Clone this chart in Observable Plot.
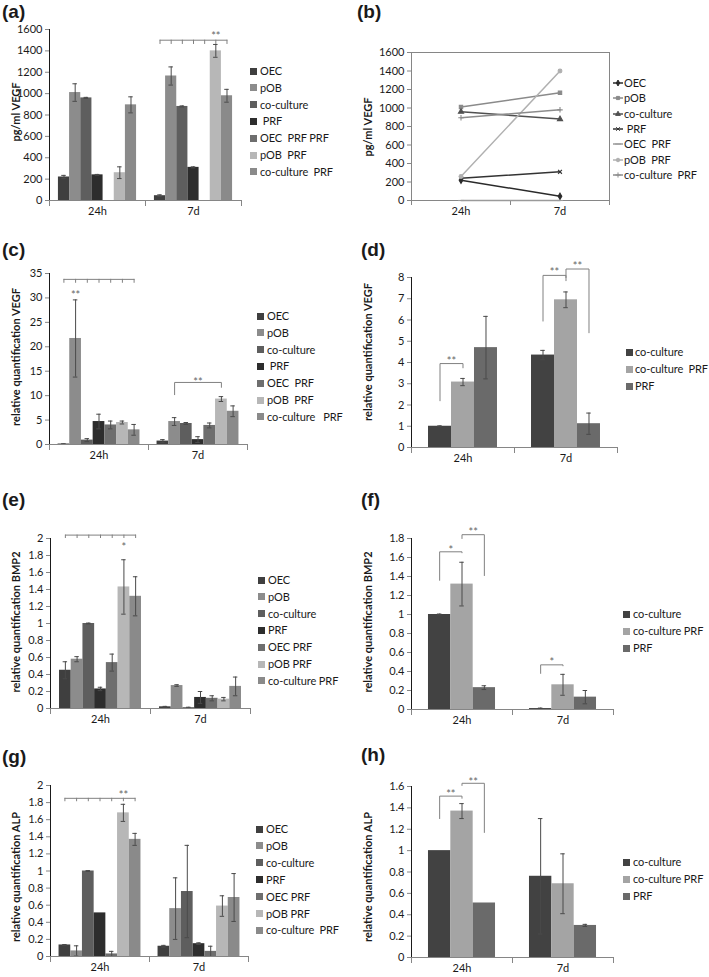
<!DOCTYPE html>
<html><head><meta charset="utf-8">
<script src="https://cdn.jsdelivr.net/npm/d3@7"></script>
<script src="https://cdn.jsdelivr.net/npm/@observablehq/plot@0.6"></script>
<style>
body{margin:0;background:#fff;}
#root{position:relative;width:709px;height:977px;overflow:hidden;font-family:Lato,"Open Sans",sans-serif;color:#1a1a1a;background:#fff;}
.plabel{position:absolute;font-family:"Liberation Sans",Arial,sans-serif;font-weight:bold;font-size:19px;line-height:20px;}
.ytitle{position:absolute;font-weight:bold;font-size:11px;white-space:nowrap;transform:translate(-50%,-50%) rotate(-90deg);}
.lrow{position:absolute;white-space:pre;font-size:11px;letter-spacing:-0.1px;line-height:14px;}
.sw{position:absolute;width:7px;height:7px;}
.chart{position:absolute;}
#root svg g[aria-label^="y-axis"] path,#root svg g[aria-label^="y-axis"] line{stroke:#868686;}
</style></head>
<body><div id="root"></div>
<script>
// ---------- categories ----------
const times = ["24h", "7d"];
const groups7 = ["OEC", "pOB", "co-culture", "PRF", "OEC PRF", "pOB PRF", "co-culture PRF"];
const groups3 = ["co-culture", "co-culture PRF", "PRF"];
const colors7 = ["#3f3f3f", "#8c8c8c", "#5e5e5e", "#2d2d2d", "#6e6e6e", "#b7b7b7", "#8a8a8a"];
const colors3 = ["#424242", "#a4a4a4", "#6a6a6a"];
const lineColors7 = ["#2a2a2a", "#8a8a8a", "#505050", "#333333", "#9a9a9a", "#b0b0b0", "#8c8c8c"];

// ---------- (a)/(b) VEGF ELISA, pg/ml ----------
const vegfElisa24h = [220, 1010, 960, 240, 0, 260, 895];
const vegfElisa7d = [45, 1165, 880, 310, 0, 1400, 980];
const vegfElisaErr24h = [15, 82, 5, 4, 0, 55, 75];
const vegfElisaErr7d = [8, 85, 5, 5, 0, 60, 60];
const elisaTicks = [0, 200, 400, 600, 800, 1000, 1200, 1400, 1600];
const legendA = ["OEC", "pOB", "co-culture", " PRF", "OEC  PRF PRF", "pOB  PRF", "co-culture  PRF"];
const legendB = ["OEC", "pOB", "co-culture", " PRF", "OEC  PRF", "pOB  PRF", "co-culture  PRF"];
const bracketsA = [{time: "7d", from: "OEC", to: "co-culture PRF", y: 1500, tick: 1460}];
const starsA = [{time: "7d", from: "pOB PRF", to: "pOB PRF", y: 1560, text: "**"}];

// ---------- (c) VEGF qPCR, 7 groups ----------
const vegfQ24h = [0.1, 21.7, 0.9, 4.7, 4.0, 4.5, 3.0];
const vegfQ7d = [0.7, 4.7, 4.3, 1.0, 3.9, 9.3, 6.8];
const vegfQErr24h = [0.05, 7.9, 0.3, 1.5, 0.8, 0.3, 1.1];
const vegfQErr7d = [0.3, 0.8, 0.2, 0.6, 0.5, 0.5, 1.1];
const vegfQTicks = [0, 5, 10, 15, 20, 25, 30, 35];
const legendC = ["OEC", "pOB", "co-culture", " PRF", "OEC  PRF", "pOB  PRF", "co-culture   PRF"];
const groupBracketsC = [{time: "24h", from: "OEC", to: "co-culture PRF", y: 33.8, tick: 33.0}];
const pairBracketsC = [{time: "7d", from: "pOB", to: "pOB PRF", y: 12.7, leftEnd: 10.2, rightEnd: 11.7}];
const starsC = [{time: "24h", from: "pOB", to: "pOB", y: 31.2, text: "**"},
                {time: "7d", from: "PRF", to: "PRF", y: 13.4, text: "**"}];

// ---------- (d) VEGF qPCR, 3 groups ----------
const vegfD24h = [1.0, 3.08, 4.7];
const vegfD7d = [4.35, 6.95, 1.12];
const vegfDErr24h = [0.02, 0.17, 1.47];
const vegfDErr7d = [0.22, 0.37, 0.5];
const vegfDTicks = [0, 1, 2, 3, 4, 5, 6, 7, 8];
const legendD = ["co-culture", "co-culture  PRF", "PRF"];
const pairBracketsD = [
  {time: "24h", from: "co-culture", to: "co-culture PRF", y: 3.95, leftEnd: 2.2, rightEnd: 3.75},
  {time: "7d", from: "co-culture", to: "co-culture PRF", y: 8.1, leftEnd: 5.95, rightEnd: 7.85},
  {time: "7d", from: "co-culture PRF", to: "PRF", y: 8.4, leftEnd: 8.0, rightEnd: 5.4}];
const starsD = [
  {time: "24h", from: "co-culture", to: "co-culture PRF", y: 4.2, text: "**"},
  {time: "7d", from: "co-culture", to: "co-culture PRF", y: 8.38, text: "**"},
  {time: "7d", from: "co-culture PRF", to: "PRF", y: 8.66, text: "**"}];

// ---------- (e) BMP2, 7 groups ----------
const bmpE24h = [0.45, 0.58, 1.0, 0.23, 0.54, 1.43, 1.32];
const bmpE7d = [0.02, 0.27, 0.01, 0.13, 0.12, 0.11, 0.26];
const bmpEErr24h = [0.1, 0.03, 0.005, 0.02, 0.1, 0.32, 0.23];
const bmpEErr7d = [0.005, 0.01, 0.005, 0.07, 0.03, 0.02, 0.11];
const ticks0to2 = [0, 0.2, 0.4, 0.6, 0.8, 1, 1.2, 1.4, 1.6, 1.8, 2];
const legendE = ["OEC", "pOB", "co-culture", "PRF", "OEC PRF", "pOB PRF", "co-culture PRF"];
const groupBracketsE = [{time: "24h", from: "OEC", to: "co-culture PRF", y: 2.04, tick: 2.0}];
const starsE = [{time: "24h", from: "pOB PRF", to: "pOB PRF", y: 1.93, text: "*"}];

// ---------- (f) BMP2, 3 groups ----------
const bmpF24h = [1.0, 1.32, 0.23];
const bmpF7d = [0.01, 0.26, 0.13];
const bmpFErr24h = [0.005, 0.23, 0.02];
const bmpFErr7d = [0.005, 0.11, 0.07];
const ticks0to18 = [0, 0.2, 0.4, 0.6, 0.8, 1, 1.2, 1.4, 1.6, 1.8];
const legendF = ["co-culture", "co-culture PRF", "PRF"];
const pairBracketsF = [
  {time: "24h", from: "co-culture", to: "co-culture PRF", y: 1.66, leftEnd: 1.36, rightEnd: 1.65},
  {time: "24h", from: "co-culture PRF", to: "PRF", y: 1.84, leftEnd: 1.8, rightEnd: 1.41},
  {time: "7d", from: "co-culture", to: "co-culture PRF", y: 0.47, leftEnd: 0.38, rightEnd: 0.46}];
const starsF = [
  {time: "24h", from: "co-culture", to: "co-culture PRF", y: 1.71, text: "*"},
  {time: "24h", from: "co-culture PRF", to: "PRF", y: 1.9, text: "**"},
  {time: "7d", from: "co-culture", to: "co-culture PRF", y: 0.53, text: "*"}];

// ---------- (g) ALP, 7 groups ----------
const alpG24h = [0.135, 0.065, 1.0, 0.51, 0.03, 1.68, 1.37];
const alpG7d = [0.12, 0.56, 0.76, 0.15, 0.06, 0.59, 0.69];
const alpGErr24h = [0.005, 0.06, 0.005, 0, 0.03, 0.1, 0.07];
const alpGErr7d = [0.01, 0.36, 0.54, 0.01, 0.06, 0.12, 0.28];
const legendG = ["OEC", "pOB", "co-culture", "PRF", "OEC PRF", "pOB PRF", "co-culture  PRF"];
const groupBracketsG = [{time: "24h", from: "OEC", to: "co-culture PRF", y: 1.85, tick: 1.81}];
const starsG = [{time: "24h", from: "pOB PRF", to: "pOB PRF", y: 1.92, text: "**"}];

// ---------- (h) ALP, 3 groups ----------
const alpH24h = [1.0, 1.37, 0.51];
const alpH7d = [0.76, 0.69, 0.3];
const alpHErr24h = [0, 0.07, 0];
const alpHErr7d = [0.54, 0.28, 0.01];
const ticks0to16 = [0, 0.2, 0.4, 0.6, 0.8, 1, 1.2, 1.4, 1.6];
const legendH = ["co-culture", "co-culture PRF", "PRF"];
const pairBracketsH = [
  {time: "24h", from: "co-culture", to: "co-culture PRF", y: 1.51, leftEnd: 1.3, rightEnd: 1.49},
  {time: "24h", from: "co-culture PRF", to: "PRF", y: 1.63, leftEnd: 1.61, rightEnd: 1.17}];
const starsH = [
  {time: "24h", from: "co-culture", to: "co-culture PRF", y: 1.55, text: "**"},
  {time: "24h", from: "co-culture PRF", to: "PRF", y: 1.67, text: "**"}];

// ---------- helpers ----------
const root = document.getElementById("root");
const AXIS = "#868686";
const FONT = {fontFamily: "Lato, 'Open Sans', sans-serif", fontSize: "11px", color: "#1a1a1a", background: "transparent", overflow: "visible"};

function div(cls, css, text) {
  const d = document.createElement("div");
  d.className = cls;
  Object.assign(d.style, css);
  if (text != null) d.textContent = text;
  root.appendChild(d);
  return d;
}
function panelLabel(x, yc, t) { div("plabel", {left: x + "px", top: (yc - 10) + "px"}, t); }
function yTitle(xc, yc, t) { div("ytitle", {left: xc + "px", top: yc + "px"}, t); }
function swatchLegend(swX, textX, y0, dy, labels, colors) {
  labels.forEach((l, i) => {
    const yc = y0 + i * dy;
    div("sw", {left: swX + "px", top: (yc - 3.5) + "px", background: colors[i]});
    div("lrow", {left: textX + "px", top: (yc - 7) + "px"}, l);
  });
}

function barPanel(c) {
  const series = c.series;
  const rows = [];
  times.forEach((t, ti) => series.forEach((s, si) =>
    rows.push({time: t, series: s, value: (ti ? c.v7 : c.v24)[si], err: (ti ? c.e7 : c.e24)[si]})));
  const errRows = rows.filter(d => d.err > 0);
  const plotW = c.width - c.ml - c.mr;
  const ph = c.height - c.mt - c.mb;
  const step = plotW / 2 / (series.length + 2 * c.po);
  const cap = Math.max(0, (step - 4.5) / 2);
  const idx = s => series.indexOf(s);
  const lines = [], ticks = [];
  (c.groupBrackets || []).forEach((b, k) => {
    lines.push({id: "g" + k, time: b.time, series: b.from, v: b.y}, {id: "g" + k, time: b.time, series: b.to, v: b.y});
    series.slice(idx(b.from), idx(b.to) + 1).forEach(s => ticks.push({time: b.time, series: s, y1: b.y, y2: b.tick}));
  });
  (c.pairBrackets || []).forEach((b, k) => {
    const id = "p" + k;
    lines.push({id, time: b.time, series: b.from, v: b.leftEnd}, {id, time: b.time, series: b.from, v: b.y},
               {id, time: b.time, series: b.to, v: b.y}, {id, time: b.time, series: b.to, v: b.rightEnd});
  });
  const starMarks = (c.stars || []).map(s => Plot.text([s], {
    fx: "time", x: "from", y: "y", text: "text", dx: (idx(s.to) - idx(s.from)) * step / 2, dy: 3,
    fill: "#666", fontSize: 11}));
  const svg = Plot.plot({
    width: c.width, height: c.height,
    marginLeft: c.ml, marginRight: c.mr, marginTop: c.mt, marginBottom: c.mb,
    style: FONT,
    fx: {domain: times, padding: 0, label: null, axis: "bottom", tickSize: 0, tickPadding: 7},
    x: {domain: series, paddingInner: 0, paddingOuter: c.po, axis: null, round: false},
    y: {domain: [0, c.ymax], ticks: c.yticks, tickSize: 4, tickPadding: 3, line: true, label: null, tickFormat: d => String(d)},
    color: {domain: series, range: c.colors},
    marks: [
      Plot.barY(rows, {fx: "time", x: "series", y: "value", fill: "series"}),
      Plot.ruleX(errRows, {fx: "time", x: "series", y1: d => Math.max(0, d.value - d.err), y2: d => d.value + d.err, stroke: "#4a4a4a", strokeWidth: 1}),
      Plot.tickY(errRows, {fx: "time", x: "series", y: d => Math.max(0, d.value - d.err), insetLeft: cap, insetRight: cap, stroke: "#4a4a4a", strokeWidth: 1}),
      Plot.tickY(errRows, {fx: "time", x: "series", y: d => d.value + d.err, insetLeft: cap, insetRight: cap, stroke: "#4a4a4a", strokeWidth: 1}),
      Plot.ruleY([0], {stroke: AXIS}),
      Plot.frame({anchor: "left", stroke: AXIS, insetTop: ph, insetBottom: -5}),
      Plot.frame({anchor: "right", stroke: AXIS, insetTop: ph, insetBottom: -5}),
      Plot.line(lines, {fx: "time", x: "series", y: "v", z: "id", stroke: "#808080", strokeWidth: 1}),
      Plot.ruleX(ticks, {fx: "time", x: "series", y1: "y1", y2: "y2", stroke: "#808080", strokeWidth: 1}),
      ...starMarks
    ]
  });
  const holder = div("chart", {left: c.left + "px", top: c.top + "px"});
  holder.appendChild(svg);
}

// ---------- (a) ----------
panelLabel(2, 12, "(a)");
yTitle(15, 112, "pg/ml VEGF");
barPanel({left: 0, top: 20, width: 246, height: 205, ml: 49, mr: 5, mt: 9, mb: 25, po: 0.8,
  series: groups7, colors: colors7, v24: vegfElisa24h, v7: vegfElisa7d, e24: vegfElisaErr24h, e7: vegfElisaErr7d,
  ymax: 1600, yticks: elisaTicks, groupBrackets: bracketsA, stars: starsA});
swatchLegend(250, 260, 71, 16.8, legendA, colors7);

// ---------- (b) ----------
panelLabel(357, 12, "(b)");
yTitle(367, 127, "pg/ml VEGF");
(function () {
  const dash = {draw(ctx, size) { const r = Math.sqrt(size) * 0.9; ctx.moveTo(-r, 0); ctx.lineTo(r, 0); }};
  const symbols = [d3.symbolDiamond, d3.symbolSquare, d3.symbolTriangle, d3.symbolTimes || d3.symbolX || d3.symbolCross, dash, d3.symbolCircle, d3.symbolPlus || d3.symbolCross];
  const rows = [];
  times.forEach((t, ti) => groups7.forEach((s, si) => rows.push({time: t, series: s, value: (ti ? vegfElisa7d : vegfElisa24h)[si]})));
  const c = {left: 354, top: 40, width: 260, height: 185, ml: 57, mr: 5, mt: 12, mb: 25};
  const bw = (c.width - c.ml - c.mr) / times.length;
  const svg = Plot.plot({
    width: c.width, height: c.height, marginLeft: c.ml, marginRight: c.mr, marginTop: c.mt, marginBottom: c.mb,
    style: FONT,
    x: {type: "band", domain: times, padding: 0, label: null, tickSize: 0, tickPadding: 7, round: false},
    y: {domain: [0, 1600], ticks: elisaTicks, tickSize: 4, tickPadding: 3, label: null, tickFormat: d => String(d)},
    color: {domain: groups7, range: lineColors7},
    symbol: {domain: groups7, range: symbols},
    marks: [
      Plot.frame({stroke: AXIS}),
      Plot.ruleX(times, {x: d => d, y1: 0, y2: 0, insetBottom: -5, dx: -bw / 2, stroke: AXIS}),
      Plot.ruleX(times.slice(-1), {x: d => d, y1: 0, y2: 0, insetBottom: -5, dx: bw / 2, stroke: AXIS}),
      Plot.line(rows, {x: "time", y: "value", z: "series", stroke: "series", strokeWidth: 1.5}),
      Plot.dot(rows, {x: "time", y: "value", symbol: "series", stroke: "series", fill: "series", r: 1.9, strokeWidth: 1.1})
    ]
  });
  div("chart", {left: c.left + "px", top: c.top + "px"}).appendChild(svg);
  // legend
  legendB.forEach((l, i) => {
    const yc = 83 + i * 15.3;
    const s = d3.create("svg").attr("width", 12).attr("height", 10)
      .style("position", "absolute").style("left", "612px").style("top", (yc - 5) + "px");
    s.append("line").attr("x1", 1).attr("x2", 11).attr("y1", 5).attr("y2", 5).attr("stroke", lineColors7[i]).attr("stroke-width", 1.5);
    s.append("path").attr("transform", "translate(6,5)").attr("d", d3.symbol(symbols[i], 10)())
      .attr("fill", lineColors7[i]).attr("stroke", lineColors7[i]).attr("stroke-width", 1);
    root.appendChild(s.node());
    div("lrow", {left: "624px", top: (yc - 7) + "px"}, l);
  });
})();

// ---------- (c) ----------
panelLabel(2, 250, "(c)");
yTitle(15, 357, "relative quantification VEGF");
barPanel({left: 0, top: 260, width: 252, height: 209, ml: 49, mr: 5, mt: 13, mb: 25, po: 0.73,
  series: groups7, colors: colors7, v24: vegfQ24h, v7: vegfQ7d, e24: vegfQErr24h, e7: vegfQErr7d,
  ymax: 35, yticks: vegfQTicks, groupBrackets: groupBracketsC, pairBrackets: pairBracketsC, stars: starsC});
swatchLegend(257, 267, 316, 16.8, legendC, colors7);

// ---------- (d) ----------
panelLabel(361, 250, "(d)");
yTitle(367, 352, "relative quantification VEGF");
barPanel({left: 354, top: 262, width: 268, height: 210, ml: 57, mr: 5, mt: 15, mb: 25, po: 0.74,
  series: groups3, colors: colors3, v24: vegfD24h, v7: vegfD7d, e24: vegfDErr24h, e7: vegfDErr7d,
  ymax: 8, yticks: vegfDTicks, pairBrackets: pairBracketsD, stars: starsD});
swatchLegend(626, 635, 352, 17, legendD, colors3);

// ---------- (e) ----------
panelLabel(2, 500, "(e)");
yTitle(15, 622, "relative quantification BMP2");
barPanel({left: 0, top: 525, width: 255, height: 208, ml: 49, mr: 5, mt: 13, mb: 25, po: 0.77,
  series: groups7, colors: colors7, v24: bmpE24h, v7: bmpE7d, e24: bmpEErr24h, e7: bmpEErr7d,
  ymax: 2, yticks: ticks0to2, groupBrackets: groupBracketsE, stars: starsE});
swatchLegend(258, 268, 580, 16.8, legendE, colors7);

// ---------- (f) ----------
panelLabel(361, 500, "(f)");
yTitle(367, 622, "relative quantification BMP2");
barPanel({left: 354, top: 525, width: 264, height: 209, ml: 57, mr: 5, mt: 13, mb: 25, po: 0.76,
  series: groups3, colors: colors3, v24: bmpF24h, v7: bmpF7d, e24: bmpFErr24h, e7: bmpFErr7d,
  ymax: 1.8, yticks: ticks0to18, pairBrackets: pairBracketsF, stars: starsF});
swatchLegend(623, 633, 614, 17, legendF, colors3);

// ---------- (g) ----------
panelLabel(2, 757, "(g)");
yTitle(15, 877, "relative quantification ALP");
barPanel({left: 0, top: 772, width: 253, height: 205, ml: 49, mr: 5, mt: 13, mb: 21, po: 0.73,
  series: groups7, colors: colors7, v24: alpG24h, v7: alpG7d, e24: alpGErr24h, e7: alpGErr7d,
  ymax: 2, yticks: ticks0to2, groupBrackets: groupBracketsG, stars: starsG});
swatchLegend(256, 266, 829, 16.9, legendG, colors7);

// ---------- (h) ----------
panelLabel(361, 755, "(h)");
yTitle(367, 877, "relative quantification ALP");
barPanel({left: 354, top: 772, width: 264, height: 205, ml: 57, mr: 5, mt: 14, mb: 20, po: 0.76,
  series: groups3, colors: colors3, v24: alpH24h, v7: alpH7d, e24: alpHErr24h, e7: alpHErr7d,
  ymax: 1.6, yticks: ticks0to16, pairBrackets: pairBracketsH, stars: starsH});
swatchLegend(623, 633, 862, 17, legendH, colors3);
</script>
</body></html>
